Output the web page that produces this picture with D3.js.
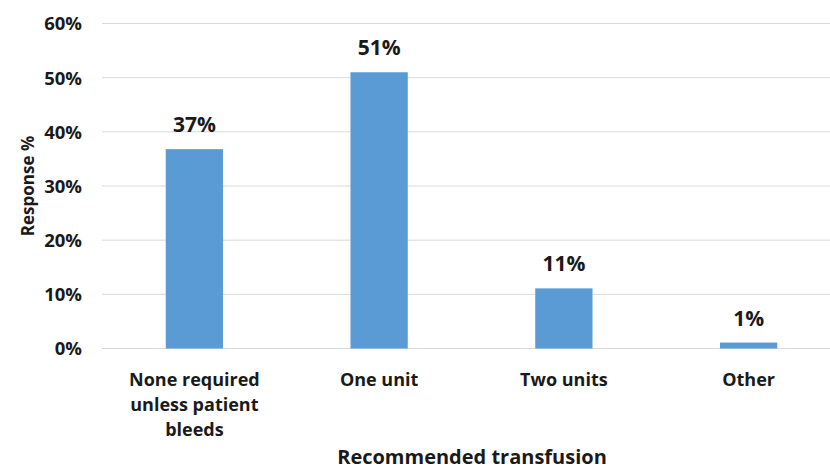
<!DOCTYPE html>
<html>
<head>
<meta charset="utf-8">
<script src="https://cdn.jsdelivr.net/npm/d3@7"></script>
<style>
  body { margin: 0; background: #fff; }
  text { font-family: "Open Sans", "DejaVu Sans", sans-serif; font-weight: bold; fill: #1a1a1a; }
</style>
</head>
<body>
<svg id="chart" width="830" height="470"></svg>
<script>
// chart data
var categories = ["None required unless patient bleeds", "One unit", "Two units", "Other"]
var categoryLines = [["None required", "unless patient", "bleeds"], ["One unit"], ["Two units"], ["Other"]]
var values = [36.8, 51, 11.1, 1.1]
var valueLabels = ["37%", "51%", "11%", "1%"]
var yTicks = [0, 10, 20, 30, 40, 50, 60]

var svg = d3.select("#chart")

var x = d3.scaleBand()
  .domain(categories)
  .range([102, 841])
  .paddingInner(0.69)
  .paddingOuter(0.345)

var y = d3.scaleLinear()
  .domain([0, 60])
  .range([348.5, 23.5])

// gridlines
svg.append("g")
  .selectAll("line")
  .data(yTicks)
  .enter().append("line")
  .attr("x1", 102)
  .attr("x2", 830)
  .attr("y1", function(d) { return y(d) })
  .attr("y2", function(d) { return y(d) })
  .attr("stroke", "#d9d9d9")
  .attr("stroke-width", 1)

// y axis labels
var yAxis = d3.axisLeft(y)
  .tickValues(yTicks)
  .tickFormat(function(d) { return d + "%" })
  .tickSize(0)
  .tickPadding(0)

svg.append("g")
  .attr("transform", "translate(82,0)")
  .call(yAxis)
  .call(function(g) { g.select(".domain").remove() })
  .selectAll("text")
  .attr("font-size", 18.5)
  .attr("dy", "0.35em")
  .style("font-family", "'Open Sans', 'DejaVu Sans', sans-serif")
  .style("font-weight", "bold")
  .style("fill", "#1a1a1a")

// bars
svg.append("g")
  .selectAll("rect")
  .data(values)
  .enter().append("rect")
  .attr("x", function(d, i) { return x(categories[i]) })
  .attr("width", x.bandwidth())
  .attr("y", function(d) { return y(d) })
  .attr("height", function(d) { return y(0) - y(d) })
  .attr("fill", "#5b9bd5")

// value labels
svg.append("g")
  .selectAll("text")
  .data(values)
  .enter().append("text")
  .attr("x", function(d, i) { return x(categories[i]) + x.bandwidth() / 2 })
  .attr("y", function(d) { return y(d) - 17 })
  .attr("text-anchor", "middle")
  .attr("font-size", 21)
  .text(function(d, i) { return valueLabels[i] })

// category labels
var cat = svg.append("g")
  .selectAll("text")
  .data(categories)
  .enter().append("text")
  .attr("x", function(d) { return x(d) + x.bandwidth() / 2 })
  .attr("y", 386)
  .attr("text-anchor", "middle")
  .attr("font-size", 18)

cat.selectAll("tspan")
  .data(function(d, i) { return categoryLines[i] })
  .enter().append("tspan")
  .attr("x", function() { return d3.select(this.parentNode).attr("x") })
  .attr("dy", function(d, i) { return i === 0 ? 0 : 25 })
  .text(function(d) { return d })

// axis titles
svg.append("text")
  .attr("x", 472)
  .attr("y", 464)
  .attr("text-anchor", "middle")
  .attr("font-size", 20)
  .text("Recommended transfusion")

svg.append("text")
  .attr("transform", "translate(34,186) rotate(-90)")
  .attr("text-anchor", "middle")
  .attr("font-size", 17)
  .text("Response %")
</script>
</body>
</html>
